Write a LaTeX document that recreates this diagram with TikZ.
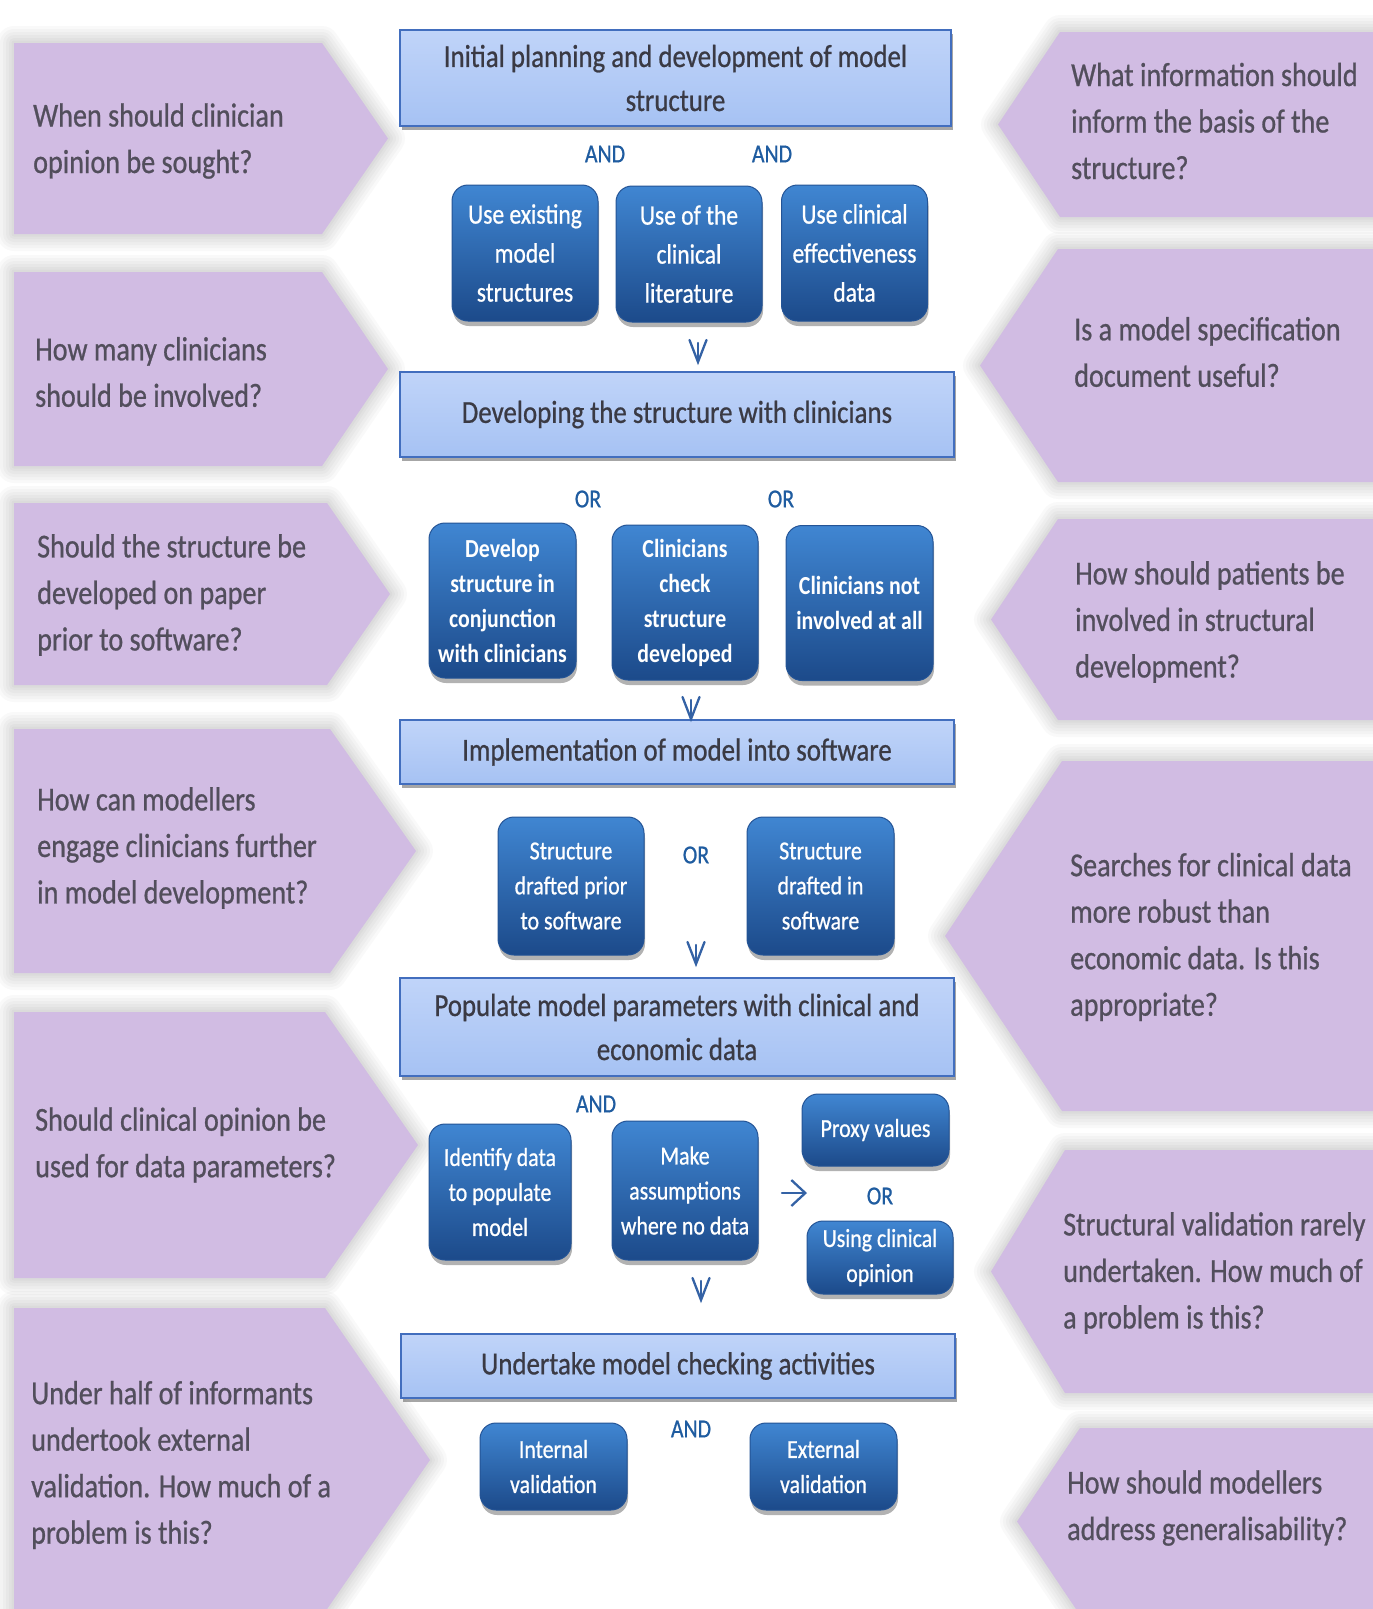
\documentclass[tikz,border=0pt]{standalone}
\usepackage{fontspec}
\setmainfont{Carlito}[FakeStretch=0.84,UprightFeatures={FakeBold=0.7}]
\usetikzlibrary{shadows,arrows.meta}

\definecolor{qfill}{RGB}{209,188,227}
\definecolor{qtext}{RGB}{82,78,92}
\definecolor{hdtop}{RGB}{192,212,249}
\definecolor{hdbot}{RGB}{166,194,243}
\definecolor{hdline}{RGB}{66,110,190}
\definecolor{hdtext}{RGB}{58,58,68}
\definecolor{bxtop}{RGB}{64,134,210}
\definecolor{bxbot}{RGB}{28,74,138}
\definecolor{bxline}{RGB}{36,84,150}
\definecolor{lbl}{RGB}{31,92,160}
\definecolor{arr}{RGB}{52,98,165}

% question panel pointing right: top, bottom, flat end, tip, text x, text y, name, text
\newcommand\questL[8]{%
  \foreach \w in {34,28,22,16,10,5}{\draw[halo,line width=\w pt] (14,#1) -- (#3,#1) -- (#4,{(#1+#2)/2}) -- (#3,#2) -- (14,#2) -- cycle;}
  \fill[qfill] (14,#1) -- (#3,#1) -- (#4,{(#1+#2)/2}) -- (#3,#2) -- (14,#2) -- cycle;
  \node[qtxt,anchor=west] (#7) at (#5,#6) {#8};
}
% question panel pointing left
\newcommand\questR[8]{%
  \foreach \w in {34,28,22,16,10,5}{\draw[halo,line width=\w pt] (1390,#1) -- (#3,#1) -- (#4,{(#1+#2)/2}) -- (#3,#2) -- (1390,#2) -- cycle;}
  \fill[qfill] (1390,#1) -- (#3,#1) -- (#4,{(#1+#2)/2}) -- (#3,#2) -- (1390,#2) -- cycle;
  \node[qtxt,anchor=west] (#7) at (#5,#6) {#8};
}
% downward chevron arrow ending at the named coordinate #1
\newcommand\downmark[1]{%
  \draw[chev] ([shift={(-8.5,-22)}]#1) -- (#1) -- ([shift={(8.5,-22)}]#1);
  \draw[chev] ([shift={(0,-19)}]#1) -- (#1);
}

\begin{document}
\begin{tikzpicture}[x=1pt,y=-1pt,
  halo/.style={draw=black,opacity=.022,line join=round},
  qtxt/.style={text=qtext,align=left,inner sep=0,font=\fontsize{33.5}{46.5}\selectfont},
  hdr/.style={rectangle,draw=hdline,line width=2pt,top color=hdtop,bottom color=hdbot,
    text=hdtext,align=center,inner sep=0,minimum width=554,
    font=\fontsize{32}{44}\selectfont,
    drop shadow={shadow xshift=2pt,shadow yshift=-4pt,fill=black,opacity=.35}},
  blk/.style={rectangle,rounded corners=16pt,draw=bxline,line width=1pt,
    top color=bxtop,bottom color=bxbot,text=white,align=center,inner sep=0,
    minimum width=146,
    drop shadow={shadow xshift=1pt,shadow yshift=-5pt,fill=black,opacity=.3}},
  big/.style={font=\fontsize{28}{39}\selectfont},
  small/.style={font=\fontsize{26}{35}\selectfont},
  heavy/.style={font=\fontsize{26}{35}\selectfont\bfseries},
  lab/.style={text=lbl,inner sep=0,font=\fontsize{26}{30}\selectfont},
  chev/.style={draw=arr,line width=2.3pt,line cap=round,line join=miter},
  harrow/.style={draw=arr,line width=2.3pt,line cap=round,-{Straight Barb[length=14pt,width=26pt]}}
]
\useasboundingbox (0,0) rectangle (1373,1609);
\fill[white] (0,0) rectangle (1373,1609);
\clip (0,0) rectangle (1373,1609);

% ---- questions on the left ----
\questL{43}{234}{322}{388}{33}{141}{ql1}{When should clinician\\opinion be sought?}
\questL{272}{466}{322}{388}{35}{372}{ql2}{How many clinicians\\should be involved?}
\questL{503}{685}{327}{390}{37}{595}{ql3}{Should the structure be\\developed on paper\\prior to software?}
\questL{729}{973}{330}{416}{37}{848}{ql4}{How can modellers\\engage clinicians further\\in model development?}
\questL{1012}{1278}{325}{418}{35}{1145}{ql5}{Should clinical opinion be\\used for data parameters?}
\questL{1308}{1612}{325}{430}{31}{1465}{ql6}{Under half of informants\\undertook external\\validation. How much of a\\problem is this?}

% ---- questions on the right ----
\questR{32}{217}{1060}{998}{1071}{121}{qr1}{What information should\\inform the basis of the\\structure?}
\questR{249}{482}{1058}{980}{1074}{352}{qr2}{Is a model specification\\document useful?}
\questR{519}{720}{1058}{991}{1075}{622}{qr3}{How should patients be\\involved in structural\\development?}
\questR{761}{1111}{1062}{945}{1070}{937}{qr4}{Searches for clinical data\\more robust than\\economic data. Is this\\appropriate?}
\questR{1150}{1393}{1065}{991}{1063}{1273}{qr5}{Structural validation rarely\\undertaken. How much of\\a problem is this?}
\questR{1428}{1615}{1080}{1017}{1067}{1508}{qr6}{How should modellers\\address generalisability?}

% ---- stage headers ----
\node[hdr,minimum width=551,minimum height=96] (h1) at (675.5,78) {Initial planning and development of model\\structure};
\node[hdr,minimum height=85] (h2) at (677,414.5) {Developing the structure with clinicians};
\node[hdr,minimum height=64] (h3) at (677,752) {Implementation of model into software};
\node[hdr,minimum height=98] (h4) at (677,1027) {Populate model parameters with clinical and\\economic data};
\node[hdr,minimum height=64] (h5) at (678,1366) {Undertake model checking activities};

% ---- stage 1 options ----
\node[lab] (and1) at (605,154) {AND};
\node[lab] (and2) at (772,154) {AND};
\node[blk,big,minimum height=136] (b1) at (525,253) {Use existing\\model\\structures};
\node[blk,big,minimum height=136] (b2) at (689,254) {Use of the\\clinical\\literature};
\node[blk,big,minimum height=136] (b3) at (854.5,253) {Use clinical\\effectiveness\\data};
\coordinate (v1) at (698,362);
\downmark{v1}

% ---- stage 2 options ----
\node[lab] (or1) at (588,499) {OR};
\node[lab] (or2) at (781,499) {OR};
\node[blk,heavy,minimum width=147,minimum height=155] (c1) at (502.5,600.5) {Develop\\structure in\\conjunction\\with clinicians};
\node[blk,heavy,minimum height=155] (c2) at (685,602.5) {Clinicians\\check\\structure\\developed};
\node[blk,heavy,minimum width=147,minimum height=155] (c3) at (859.5,603) {Clinicians not\\involved at all};
\coordinate (v2) at (691,719);
\downmark{v2}

% ---- stage 3 options ----
\node[blk,small,minimum height=138] (d1) at (571,886) {Structure\\drafted prior\\to software};
\node[lab] (or3) at (696,855) {OR};
\node[blk,small,minimum width=147,minimum height=138] (d2) at (820.5,886) {Structure\\drafted in\\software};
\coordinate (v3) at (696,964);
\downmark{v3}

% ---- stage 4 options ----
\node[lab] (and3) at (596,1104) {AND};
\node[blk,small,minimum width=142,minimum height=136] (e1) at (500,1192) {Identify data\\to populate\\model};
\node[blk,small,minimum height=139] (e2) at (685,1190.5) {Make\\assumptions\\where no data};
\node[blk,small,minimum width=147,minimum height=72] (e3) at (875.5,1130) {Proxy values};
\node[lab] (or4) at (880,1196) {OR};
\node[blk,small,minimum height=73] (e4) at (880,1257.5) {Using clinical\\opinion};
\coordinate (ra) at (782,1193);
\coordinate (rb) at (807,1193);
\draw[harrow] (ra) -- (rb);
\coordinate (v4) at (701,1300);
\downmark{v4}

% ---- stage 5 options ----
\node[lab] (and4) at (691,1429) {AND};
\node[blk,small,minimum width=147,minimum height=87] (f1) at (553.5,1466.5) {Internal\\validation};
\node[blk,small,minimum width=147,minimum height=87] (f2) at (823.5,1466.5) {External\\validation};
\end{tikzpicture}
\end{document}
